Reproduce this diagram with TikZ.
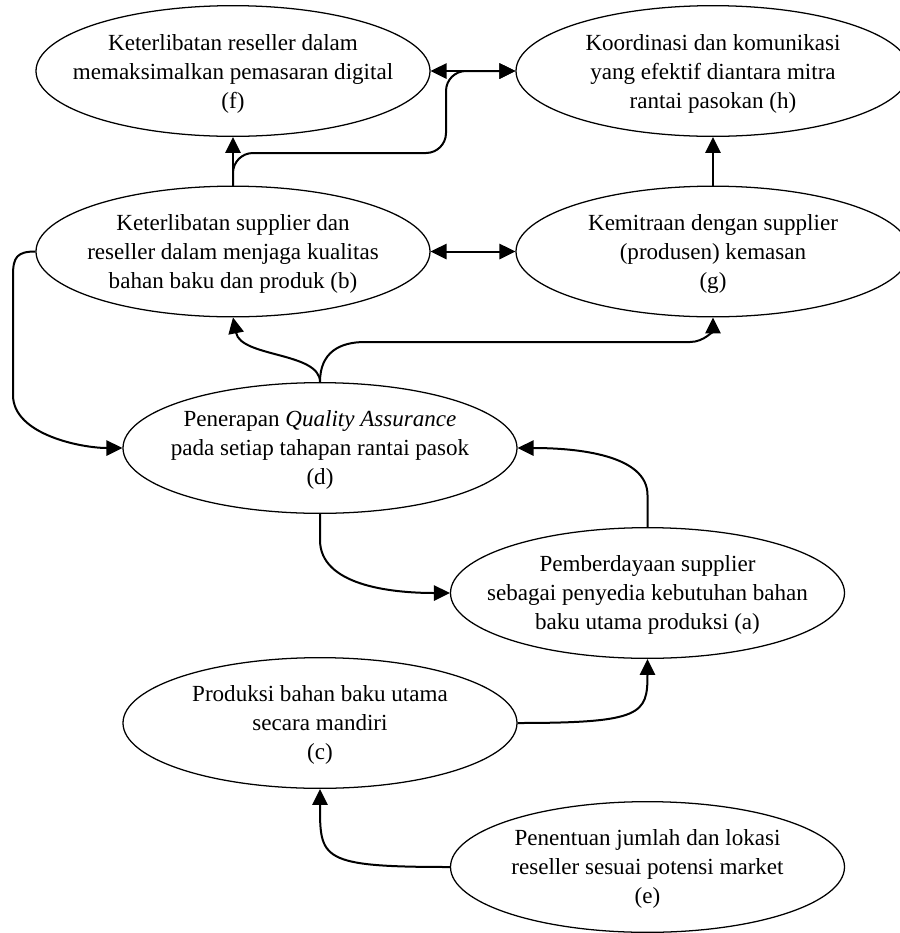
\documentclass[tikz,border=0pt]{standalone}
\usepackage{fontspec}
\setmainfont{Liberation Serif}
\usetikzlibrary{arrows.meta,shapes.geometric}

\tikzset{every picture/.style={line width=0.75pt}}
\tikzset{
	oval/.style={draw, ellipse, line width=0.95pt, minimum width=295.5pt, minimum height=98pt, inner sep=0pt},
	txt/.style={align=center, font=\fontsize{17.3}{21.5}\selectfont, inner sep=0pt},
	link/.style={line width=1.5pt, -{Triangle[length=12pt,width=11.5pt]}},
	twoway/.style={line width=1.5pt, {Triangle[length=12pt,width=11.5pt]}-{Triangle[length=12pt,width=11.5pt]}}}

\begin{document}
\begin{tikzpicture}[x=0.75pt,y=0.75pt,yscale=-1,xscale=1]
	\useasboundingbox (0,0) rectangle (900,933);

	%Shape: Ellipse
	\node [oval] (f) at (233,71) {};
	%Shape: Ellipse
	\node [oval] (h) at (713,71) {};
	%Shape: Ellipse
	\node [oval] (b) at (233,251.5) {};
	%Shape: Ellipse
	\node [oval] (g) at (713,251.5) {};
	%Shape: Ellipse
	\node [oval] (d) at (320,448) {};
	%Shape: Ellipse
	\node [oval] (a) at (647.5,593) {};
	%Shape: Ellipse
	\node [oval] (c) at (320,723) {};
	%Shape: Ellipse
	\node [oval] (e) at (647.5,867) {};

	% Text Node
	\node [txt] (ftxt) at (233,74) {Keterlibatan reseller dalam\\memaksimalkan pemasaran digital\\(f)};
	% Text Node
	\node [txt] (htxt) at (713,74) {Koordinasi dan komunikasi\\yang efektif diantara mitra\\rantai pasokan (h)};
	% Text Node
	\node [txt] (btxt) at (233,254) {Keterlibatan supplier dan\\reseller dalam menjaga kualitas\\bahan baku dan produk (b)};
	% Text Node
	\node [txt] (gtxt) at (713,254) {Kemitraan dengan supplier\\(produsen) kemasan\\(g)};
	% Text Node
	\node [txt] (dtxt) at (320,450) {Penerapan \textit{Quality Assurance}\\pada setiap tahapan rantai pasok\\(d)};
	% Text Node
	\node [txt] (atxt) at (647.5,595) {Pemberdayaan supplier\\sebagai penyedia kebutuhan bahan\\baku utama produksi (a)};
	% Text Node
	\node [txt] (ctxt) at (320,725) {Produksi bahan baku utama\\secara mandiri\\(c)};
	% Text Node
	\node [txt] (etxt) at (647.5,869) {Penentuan jumlah dan lokasi\\reseller sesuai potensi market\\(e)};

	%Straight Lines
	\draw [twoway] (f.east) -- (h.west);
	\draw [twoway] (b.east) -- (g.west);
	\draw [link] (b.north) -- (f.south);
	\draw [link] (g.north) -- (h.south);
	%Curve Lines
	\draw [link, rounded corners=15pt] (b.north) |- (446,153) |- (h.west);
	\draw [link] (d.north) .. controls +(0,-30) and +(8,40) .. (b.south);
	\draw [link] (d.north) .. controls +(0,-30) and +(-25,0) .. (365,342) -- (690,342) .. controls +(15,0) and +(0,12) .. (g.south);
	\draw [link] (b.west) .. controls +(-18,0) and +(0,-18) .. (13,275) -- (13,395) .. controls +(0,40) and +(-40,0) .. (d.west);
	\draw [link] (a.north) -- (647.5,495) .. controls +(0,-40) and +(60,0) .. (d.east);
	\draw [link] (d.south) -- (320,540) .. controls +(0,45) and +(-60,0) .. (a.west);
	\draw [link] (c.east) .. controls +(125,0) and +(0,55) .. (a.south);
	\draw [link] (e.west) .. controls +(-130,0) and +(0,70) .. (c.south);

\end{tikzpicture}
\end{document}
